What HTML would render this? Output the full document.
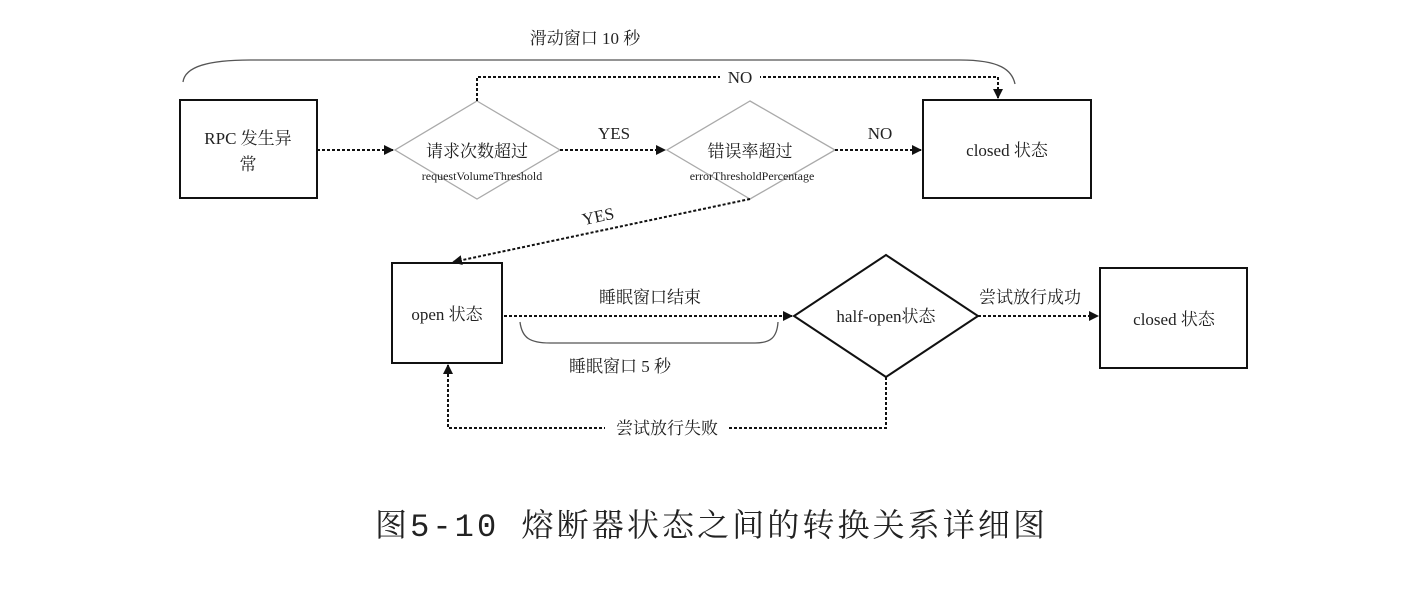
<!DOCTYPE html>
<html><head><meta charset="utf-8"><style>
body{margin:0;background:#fff;}
svg text{font-family:"Liberation Serif","Noto Serif CJK SC",serif;fill:#222;}
</style></head><body>
<svg width="1426" height="584" viewBox="0 0 1426 584" xmlns="http://www.w3.org/2000/svg">
<defs><marker id="a" markerWidth="10" markerHeight="10" refX="9" refY="5" orient="auto" markerUnits="userSpaceOnUse"><path d="M0,0 L10,5 L0,10 z" fill="#111"/></marker></defs>
<g stroke="#111" fill="none">
<path d="M183,82 C185,66 210,60 250,60 L960,60 C1000,60 1012,70 1015,84" stroke="#555" stroke-width="1.3"/>
<rect x="180" y="100" width="137" height="98" stroke-width="2"/>
<rect x="923" y="100" width="168" height="98" stroke-width="2"/>
<rect x="392" y="263" width="110" height="100" stroke-width="2"/>
<rect x="1100" y="268" width="147" height="100" stroke-width="2"/>
<polygon points="477,101 560,150 477,199 395,150" stroke="#aaa" stroke-width="1.3"/>
<polygon points="750,101 835,150 750,199 667,150" stroke="#aaa" stroke-width="1.3"/>
<polygon points="886,255 978,316 886,377 794,316" stroke-width="2"/>
<path d="M520,322 C522,338 530,343 550,343 L755,343 C770,343 777,338 778,322" stroke="#555" stroke-width="1.3"/>
</g>
<g stroke="#111" fill="none" stroke-width="2" stroke-dasharray="3,2">
<path d="M317,150 L393,150" marker-end="url(#a)"/>
<path d="M560,150 L665,150" marker-end="url(#a)"/>
<path d="M835,150 L921,150" marker-end="url(#a)"/>
<path d="M477,101 L477,77 L998,77 L998,98" marker-end="url(#a)"/>
<path d="M750,199 L453,262" marker-end="url(#a)"/>
<path d="M504,316 L792,316" marker-end="url(#a)"/>
<path d="M978,316 L1098,316" marker-end="url(#a)"/>
<path d="M886,377 L886,428 L448,428 L448,365" marker-end="url(#a)"/>
</g>
<rect x="720" y="68" width="40" height="18" fill="#fff"/>
<rect x="605" y="418" width="124" height="22" fill="#fff"/>
<g font-size="17" text-anchor="middle">
<text x="585" y="44">滑动窗口 10 秒</text>
<text x="740" y="83">NO</text>
<text x="248" y="144">RPC 发生异</text>
<text x="248" y="170">常</text>
<text x="477" y="157">请求次数超过</text>
<text x="482" y="180" font-size="12">requestVolumeThreshold</text>
<text x="614" y="139">YES</text>
<text x="750" y="157">错误率超过</text>
<text x="752" y="180" font-size="12">errorThresholdPercentage</text>
<text x="880" y="139">NO</text>
<text x="1007" y="156">closed 状态</text>
<text x="598" y="222" transform="rotate(-12 598 216)">YES</text>
<text x="447" y="320">open 状态</text>
<text x="650" y="303">睡眠窗口结束</text>
<text x="886" y="322">half-open状态</text>
<text x="1030" y="303">尝试放行成功</text>
<text x="1174" y="325">closed 状态</text>
<text x="620" y="372">睡眠窗口  5 秒</text>
<text x="667" y="434">尝试放行失败</text>
</g>
<text x="375" y="536" font-size="32" textLength="670" lengthAdjust="spacing" style="font-family:'Liberation Mono','Noto Serif CJK SC',serif">图5-10  熔断器状态之间的转换关系详细图</text>
</svg>
</body></html>
